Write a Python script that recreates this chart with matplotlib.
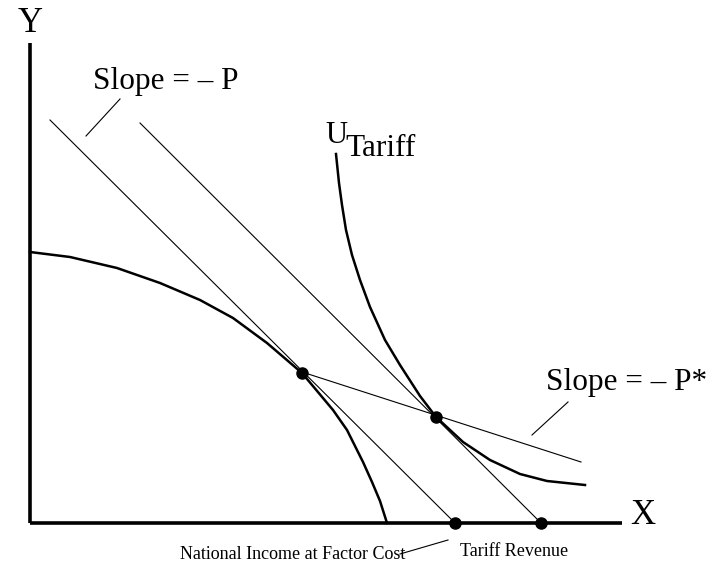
import matplotlib
matplotlib.use("Agg")
import matplotlib.pyplot as plt

plt.rcParams['font.family'] = ['Liberation Serif', 'DejaVu Serif']

# diagram units: origin where the axes meet
axis_x_end = 592
axis_y_end = 480

# production possibility frontier
ppf_x = [0, 40, 87, 130, 170, 203, 237, 272, 303, 317, 333, 342, 350, 357]
ppf_y = [271, 266, 255, 240, 223, 205, 180, 150, 113, 93, 61, 41, 22, 0]

# indifference curve U_Tariff
ic_x = [306, 309, 312, 316, 322, 330, 340, 355, 370, 390, 406, 433, 460, 490, 517, 555]
ic_y = [369, 340, 318, 293, 268, 243, 216, 183, 158, 127, 106, 81, 63, 49, 42, 38]

# price lines (start, end)
p_line1_x = [20, 425]
p_line1_y = [403, 0]
p_line2_x = [110, 511]
p_line2_y = [400, 0]
pstar_x = [272, 551]
pstar_y = [151, 61]

dots_x = [272, 406, 425, 511]
dots_y = [150, 106, 0, 0]

fig = plt.figure(figsize=(7.06, 5.63), dpi=100)
ax = fig.add_axes([0, 0, 1, 1])
ax.set_xlim(-30, 676)
ax.set_ylim(-40, 523)
ax.axis('off')

# axes
ax.plot([0, 0], [0, axis_y_end], color='black', lw=2.6, solid_capstyle='butt')
ax.plot([0, axis_x_end], [0, 0], color='black', lw=2.6, solid_capstyle='butt')
ax.text(0, 500, 'Y', fontsize=25, ha='center', va='center')
ax.text(613, 7, 'X', fontsize=25, ha='center', va='center')

# curves
ax.plot(ppf_x, ppf_y, color='black', lw=1.8, solid_joinstyle='round')
ax.plot(ic_x, ic_y, color='black', lw=1.8, solid_joinstyle='round')

# price lines
ax.plot(p_line1_x, p_line1_y, color='black', lw=0.8)
ax.plot(p_line2_x, p_line2_y, color='black', lw=0.8)
ax.plot(pstar_x, pstar_y, color='black', lw=0.8)

ax.plot(dots_x, dots_y, 'o', color='black', ms=8, ls='none')

# labels
ax.text(63, 434, 'Slope = \u2013 P', fontsize=22.5, ha='left', va='baseline')
ax.plot([90, 56], [424, 387], color='black', lw=0.8)

ax.text(295, 380, 'U', fontsize=22, ha='left', va='baseline')
ax.text(315, 367, 'Tariff', fontsize=22.5, ha='left', va='baseline')

ax.text(516, 133, 'Slope = \u2013 P*', fontsize=22.5, ha='left', va='baseline')
ax.plot([538, 502], [121, 88], color='black', lw=0.8)

ax.text(150, -36, 'National Income at Factor Cost', fontsize=13, ha='left', va='baseline')
ax.plot([370, 418], [-31, -17], color='black', lw=0.8)
ax.text(430, -33, 'Tariff Revenue', fontsize=13, ha='left', va='baseline')

fig.savefig('out.png', dpi=100)
